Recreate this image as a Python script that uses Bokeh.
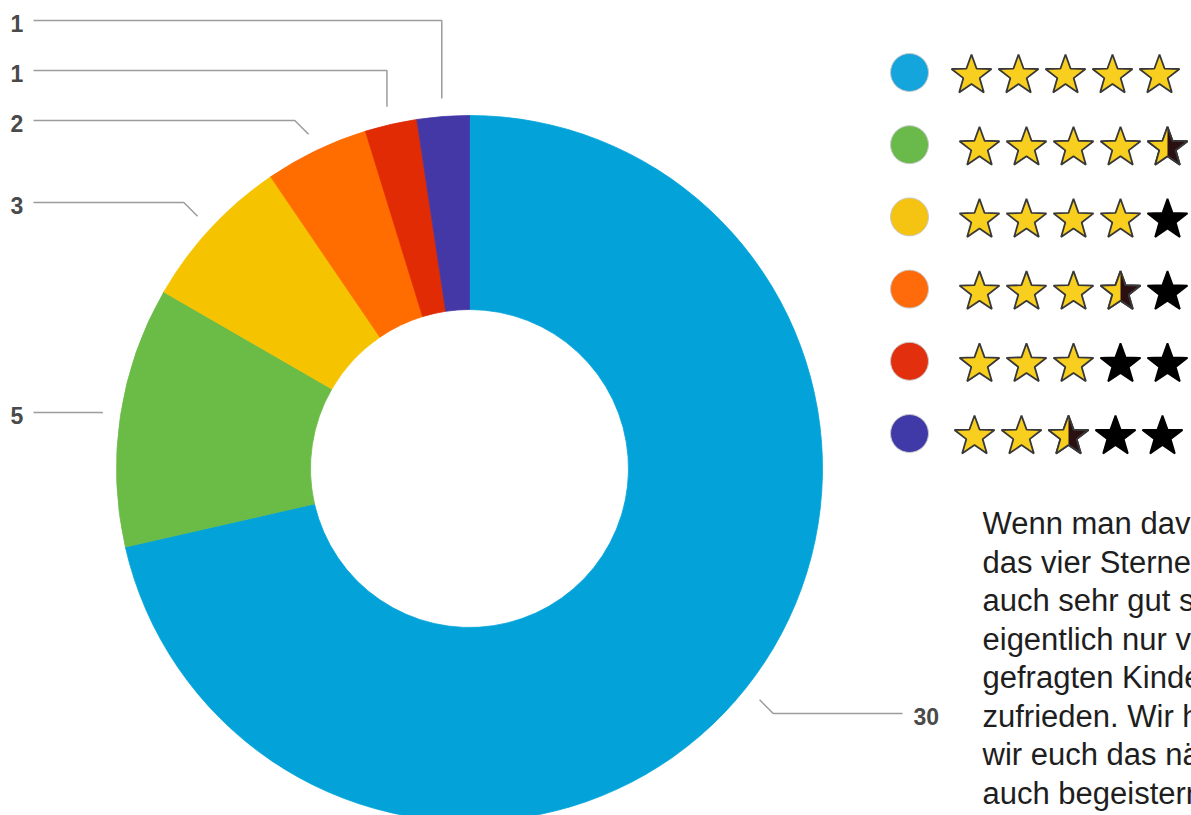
import numpy as np
from bokeh.plotting import figure
from bokeh.models import Range1d
from bokeh.core.properties import value
from bokeh.embed import file_html
from bokeh.resources import INLINE

# ---------------- data ----------------
counts = [30, 5, 3, 2, 1, 1]
ratings = [5.0, 4.5, 4.0, 3.5, 3.0, 2.5]
count_labels = [str(c) for c in counts]
slice_colors = ["#03a3d9", "#6bbb47", "#f5c300", "#ff6c00", "#e02b05", "#4338a6"]
legend_colors = ["#14a5dc", "#6ab94b", "#f5c412", "#ff6a0a", "#e2300e", "#3f3aa7"]
body_lines = [
    "Wenn man dav",
    "das vier Sterne",
    "auch sehr gut s",
    "eigentlich nur v",
    "gefragten Kinde",
    "zufrieden. Wir h",
    "wir euch das nä",
    "auch begeistern",
    "Danke für die",
]

# ---------------- layout ----------------
W, H = 1191, 815


def Y(py):
    return H - py


p = figure(width=W, height=H, x_range=Range1d(0, W), y_range=Range1d(0, H),
           output_backend="svg", toolbar_location=None, min_border=0,
           x_axis_location=None, y_axis_location=None)
p.grid.visible = False
p.outline_line_color = None
p.background_fill_color = "white"
p.border_fill_color = "white"

# donut
cx, cy = 469, Y(468)
R_out, R_in = 353, 159
total = sum(counts)
cum = np.cumsum([0] + counts)
start = np.pi / 2 - 2 * np.pi * cum[:-1] / total
end = np.pi / 2 - 2 * np.pi * cum[1:] / total
p.annular_wedge(x=[cx] * len(counts), y=[cy] * len(counts), inner_radius=R_in, outer_radius=R_out,
                start_angle=list(start), end_angle=list(end), direction="clock",
                fill_color=slice_colors, line_color=slice_colors, line_width=0.8)

# leader lines and value labels
label_page_y = [713, 412, 202, 120, 70, 20]
R_lead = 371
mid = (start + end) / 2
xs, ys, tx, ty = [], [], [], []
for i in range(len(counts)):
    x1 = cx + R_lead * np.cos(mid[i])
    y1 = cy + R_lead * np.sin(mid[i])
    ly = Y(label_page_y[i])
    side = 1 if np.cos(mid[i]) > 0 else -1
    dy = ly - y1
    ex = x1 + side * abs(dy) if abs(dy) <= 18 else x1
    endx = 902 if side > 0 else 33
    xs.append([x1, ex, endx])
    ys.append([y1, ly, ly])
    tx.append(913 if side > 0 else 10)
    ty.append(ly - 3)
p.multi_line(xs=xs, ys=ys, line_color="#9c9c9c", line_width=1.5)
p.text(x=tx, y=ty, text=count_labels, text_align="left", text_baseline="middle",
       text_font=value("Liberation Sans"), text_font_style="bold", text_font_size="23px",
       text_color="#4a4a4a")

# legend circles
row_y = [72 + 72.2 * i for i in range(len(counts))]
p.scatter(x=[909] * len(counts), y=[Y(v) for v in row_y], size=38, marker="circle",
          fill_color=legend_colors, line_color="#c9c9c9", line_width=1)

# star ratings
row_start = [971, 979, 979, 979, 979, 974]
SR, SRi = 21, 21 * 0.41


def star_pts(sx, sy, half=None):
    pts = []
    for k in range(5):
        a_o = np.radians(90 + 72 * k)
        a_i = np.radians(90 + 72 * k + 36)
        pts.append((sx + SR * np.cos(a_o), sy + SR * np.sin(a_o)))
        pts.append((sx + SRi * np.cos(a_i), sy + SRi * np.sin(a_i)))
    if half == "left":
        pts = pts[:6]
    return [q[0] for q in pts], [q[1] for q in pts]


base_x, base_y, base_fill, base_line = [], [], [], []
half_x, half_y = [], []
ol_x, ol_y = [], []
for i, r in enumerate(ratings):
    for k in range(5):
        f = min(max(r - k, 0.0), 1.0)
        sx = row_start[i] + 47 * k
        sy = Y(row_y[i] + 3)
        px_, py_ = star_pts(sx, sy)
        base_x.append(px_)
        base_y.append(py_)
        if f >= 1:
            base_fill.append("#f8cf1e")
            base_line.append("#383838")
        elif f > 0:
            base_fill.append("#2a1010")
            base_line.append("#383838")
            hx, hy = star_pts(sx, sy, "left")
            half_x.append(hx)
            half_y.append(hy)
            ol_x.append(px_)
            ol_y.append(py_)
        else:
            base_fill.append("#000000")
            base_line.append("#000000")
p.patches(xs=base_x, ys=base_y, fill_color=base_fill, line_color=base_line, line_width=1.8)
p.patches(xs=half_x, ys=half_y, fill_color="#f8cf1e", line_color=None)
p.patches(xs=ol_x, ys=ol_y, fill_color=None, line_color="#383838", line_width=1.8)

# body text
p.text(x=[982] * len(body_lines), y=[Y(523 + 38.5 * i) for i in range(len(body_lines))],
       text=body_lines, text_align="left", text_baseline="alphabetic",
       text_font=value("Liberation Sans"), text_font_size="31px", text_color="#1e1e1e")

open("out.html", "w").write(file_html(p, INLINE))
